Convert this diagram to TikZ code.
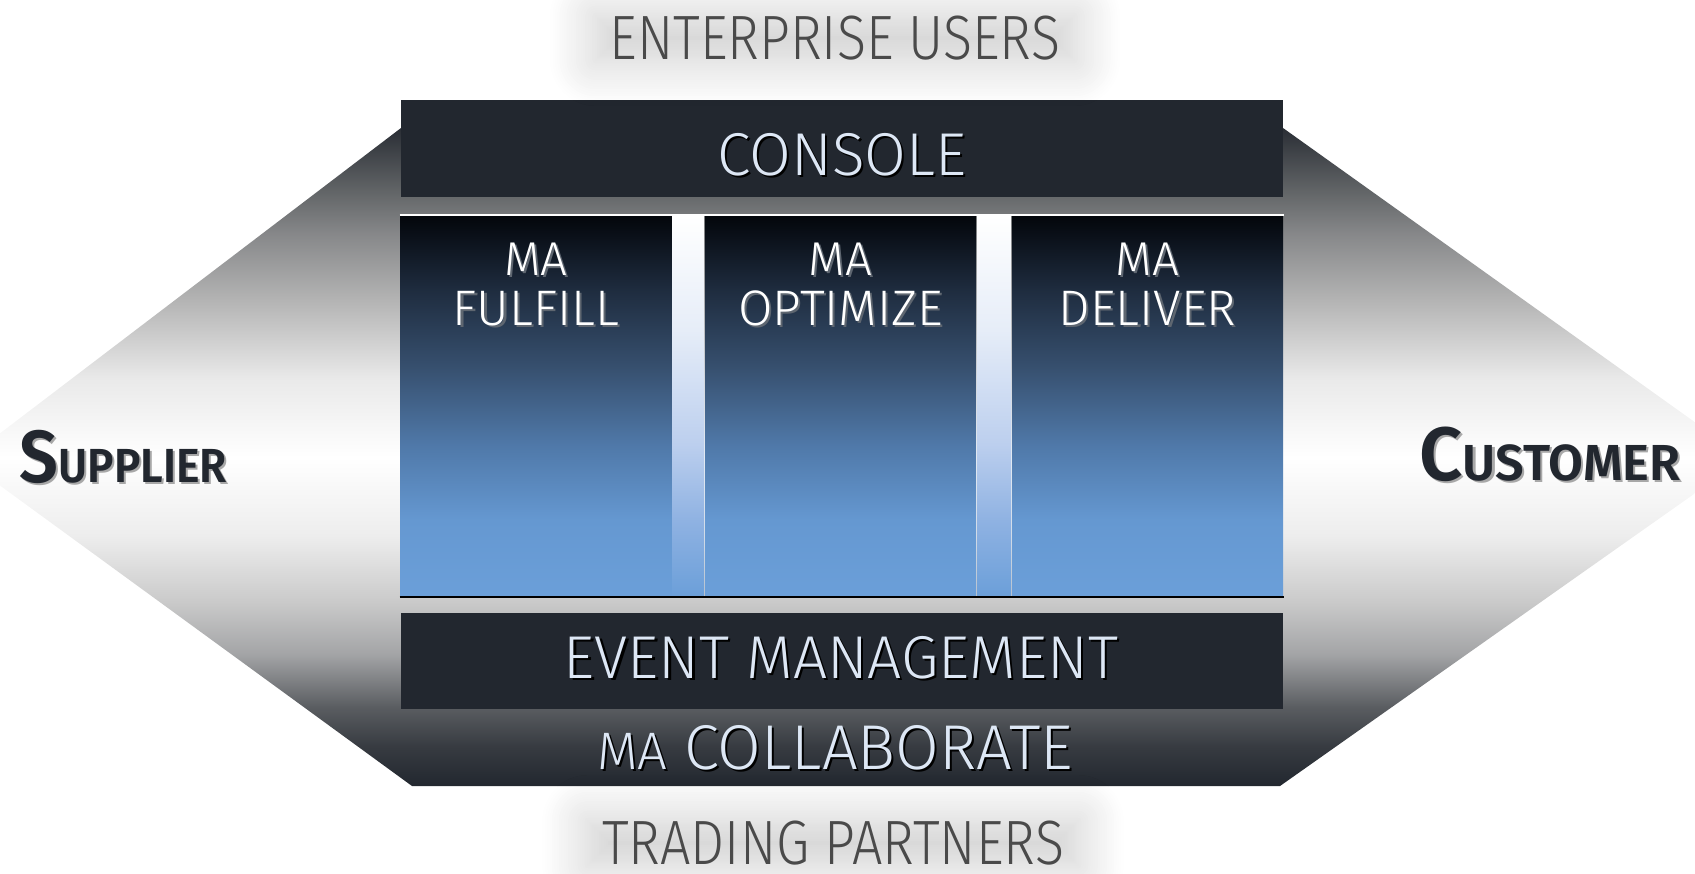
\documentclass[tikz,border=0pt]{standalone}
\usepackage{fontspec}
\usepackage{xcolor}
\usepackage{tikz}
\usetikzlibrary{shadows.blur}
\newfontfamily\lightfont{Fira Sans Light}
\newfontfamily\semifont{Fira Sans SemiBold}

\definecolor{panelgray}{HTML}{22272F}
\definecolor{paneltext}{HTML}{DDE7F5}
\definecolor{sidetext}{HTML}{22272F}
\definecolor{sideshade}{HTML}{A8A8A8}
\definecolor{usertext}{HTML}{4A4A4A}
\definecolor{colshadow}{HTML}{5E6670}
% hexagon stops
\definecolor{hexa}{HTML}{373B41}
\definecolor{hexb}{HTML}{5A5D61}
\definecolor{hexc}{HTML}{A3A4A6}
\definecolor{hexd}{HTML}{CACACA}
\definecolor{hexe}{HTML}{EDEDED}
\definecolor{hexf}{HTML}{E9E9E9}
\definecolor{hexg}{HTML}{B3B3B3}
\definecolor{hexh}{HTML}{868789}
\definecolor{hexi}{HTML}{646769}
\definecolor{hextop}{HTML}{2A2E35}
% column stops
\definecolor{cola}{HTML}{6B9FD9}
\definecolor{colb}{HTML}{6598D1}
\definecolor{colc}{HTML}{4F78A8}
\definecolor{cold}{HTML}{37506F}
\definecolor{cole}{HTML}{1F2D40}
\definecolor{colf}{HTML}{03060B}
% gap stops
\definecolor{gapa}{HTML}{8FB2E2}
\definecolor{gapb}{HTML}{BCCFEE}
\definecolor{gapc}{HTML}{E6EDF8}

\pgfdeclareverticalshading{hexshade}{100bp}{color(0bp)=(panelgray); color(25bp)=(panelgray);
  color(28bp)=(hexa); color(31bp)=(hexb); color(35bp)=(hexc); color(39bp)=(hexd);
  color(44bp)=(hexe); color(50bp)=(white); color(56bp)=(hexf); color(62bp)=(hexg);
  color(67bp)=(hexh); color(70bp)=(hexi); color(75bp)=(hextop); color(100bp)=(hextop)}
\pgfdeclareverticalshading{colshade}{100bp}{color(0bp)=(cola); color(25bp)=(cola);
  color(35bp)=(colb); color(45bp)=(colc); color(55bp)=(cold); color(65bp)=(cole);
  color(75bp)=(colf); color(100bp)=(colf)}
\pgfdeclareverticalshading{gapshade}{100bp}{color(0bp)=(cola); color(25bp)=(cola);
  color(35bp)=(gapa); color(45bp)=(gapb); color(60bp)=(gapc); color(75bp)=(white);
  color(100bp)=(white)}

% text with a small drop shadow
\newcommand{\shtext}[2]{\leavevmode\rlap{\kern0.6pt\raisebox{-0.6pt}{\textcolor{#1}{#2}}}#2}

\begin{document}
\begin{tikzpicture}[x=0.01cm, y=-0.01cm,
    panel/.style={fill=panelgray, inner sep=0, minimum width=8.82cm, minimum height=0.96cm},
    column/.style={shading=colshade, inner sep=0, minimum width=2.71cm, minimum height=3.8cm},
    paneltxt/.style={inner sep=0, text=paneltext, font=\lightfont\fontsize{17.2}{18}\selectfont},
    coltxt/.style={inner sep=0, text=white, align=center},
    sidetxt/.style={inner sep=0, text=sidetext, anchor=base west},
    halo/.style={inner xsep=4pt, inner ysep=0pt, text=usertext,
      font=\lightfont\fontsize{17.8}{18}\selectfont,
      blur shadow={shadow xshift=0pt, shadow yshift=0pt, shadow blur radius=13pt,
        shadow blur steps=20, shadow opacity=20}}]
    \useasboundingbox (0,0) rectangle (1695,873);
    \clip (0,0) rectangle (1695,873);
    %HEXAGON
    \shade[shading=hexshade] (401,128) -- (1283,128) -- (1745,458) -- (1280,786) -- (412,786) -- (-35,460) -- cycle;
    %CONSOLE
    \node[panel] (console) at (842,148.5) {};
    \node[paneltxt] (consolelbl) at (842,156) {\shtext{black}{CONSOLE}};
    %COLUMNS
    \node[column] (fulfill) at (536,406) {};
    \node[column] (optimize) at (840.5,406) {};
    \node[column] (deliver) at (1147.5,406) {};
    \shade[shading=gapshade] (fulfill.north east) rectangle (optimize.south west);
    \shade[shading=gapshade] (optimize.north east) rectangle (deliver.south west);
    \draw[white, line width=0.5pt] (fulfill.north west) -- (deliver.north east);
    \draw[black, line width=0.5pt] (fulfill.south west) -- (deliver.south east);
    \foreach \col/\name in {fulfill/FULFILL, optimize/OPTIMIZE, deliver/DELIVER}
        \node[coltxt] (\col lbl) at ([yshift=-0.7cm]\col.north) {{\lightfont\fontsize{13.5}{12}\selectfont\shtext{colshadow}{MA}}\\[2.2pt]{\lightfont\fontsize{14.2}{14}\selectfont\shtext{colshadow}{\name}}};
    %EVENT MANAGEMENT
    \node[panel] (event) at (842,661) {};
    \node[paneltxt] (eventlbl) at (841,659) {\shtext{black}{EVENT MANAGEMENT}};
    %COLLABORATE
    \node[paneltxt] (collab) at (835,749) {\shtext{black}{{\fontsize{15}{16}\selectfont MA} {\fontsize{18}{18}\selectfont COLLABORATE}}};
    %SUPPLIER / CUSTOMER
    \node[sidetxt] (supplier) at (19,482) {\semifont\scalebox{0.93}[1]{\shtext{sideshade}{{\fontsize{21}{20}\selectfont S}{\fontsize{13.6}{14}\selectfont UPPLIER}}}};
    \node[sidetxt] (customer) at (1419,480) {\semifont\shtext{sideshade}{{\fontsize{21.5}{20}\selectfont C}{\fontsize{14.4}{14}\selectfont USTOMER}}};
    %USERS
    \node[halo] (users) at (835,38) {\scalebox{0.86}[1]{ENTERPRISE USERS}};
    \node[halo] (partners) at (833,843) {\scalebox{0.86}[1]{TRADING PARTNERS}};
\end{tikzpicture}
\end{document}
